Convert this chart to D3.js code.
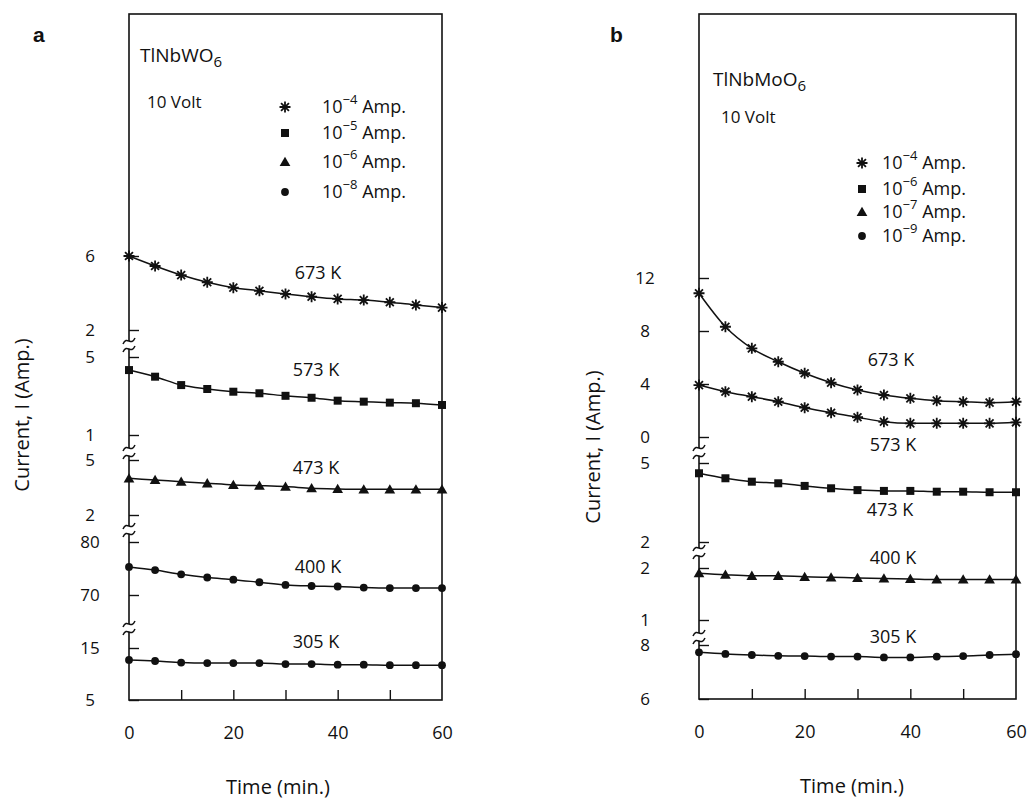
<!DOCTYPE html>
<html>
<head>
<meta charset="utf-8">
<script src="https://cdn.jsdelivr.net/npm/d3@7"></script>
<style>
  body { margin: 0; background: #fff; }
  svg text { font-family: 'Open Sans', 'DejaVu Sans', sans-serif; fill: #111; }
  .letter { font-family: 'Liberation Sans', Arial, sans-serif; font-weight: bold; font-size: 21px; }
  .tick-label { font-size: 17px; }
  .temp-label { font-size: 18px; }
  .axis-title { font-size: 20px; }
</style>
</head>
<body>
<svg id="chart" width="1027" height="799"></svg>
<script>
// Time points (min.) shared by every series
const times = [0, 5, 10, 15, 20, 25, 30, 35, 40, 45, 50, 55, 60];
const timeTickLabels = [0, 20, 40, 60];
const timeMinorTicks = [10, 20, 30, 40, 50];

// Panel a : TlNbWO6, one broken-axis segment per temperature
const aTicks = [[6, 2], [5, 1], [5, 2], [80, 70], [15, 5]];
const a673 = [6.0, 5.46, 4.97, 4.58, 4.29, 4.12, 3.95, 3.80, 3.68, 3.62, 3.50, 3.35, 3.21];
const a573 = [4.33, 3.99, 3.56, 3.36, 3.22, 3.14, 3.01, 2.91, 2.76, 2.71, 2.66, 2.63, 2.54];
const a473 = [4.00, 3.91, 3.82, 3.73, 3.64, 3.60, 3.55, 3.46, 3.42, 3.40, 3.40, 3.40, 3.40];
const a400 = [75.3, 74.7, 73.9, 73.3, 72.9, 72.4, 71.9, 71.7, 71.6, 71.4, 71.3, 71.3, 71.3];
const a305 = [12.7, 12.5, 12.2, 12.1, 12.1, 12.1, 11.9, 11.9, 11.8, 11.8, 11.7, 11.7, 11.7];
const aLegendExp = ['\u22124', '\u22125', '\u22126', '\u22128'];

// Panel b : TlNbMoO6
const bTicks = [[12, 8, 4, 0], [5, 2], [2, 1], [8, 6]];
const b673 = [10.85, 8.32, 6.69, 5.68, 4.81, 4.10, 3.55, 3.17, 2.92, 2.74, 2.66, 2.59, 2.66];
const b573 = [3.92, 3.42, 3.04, 2.66, 2.21, 1.83, 1.49, 1.15, 1.03, 1.03, 1.03, 1.03, 1.11];
const b473 = [4.61, 4.42, 4.29, 4.23, 4.13, 4.04, 3.97, 3.94, 3.94, 3.91, 3.91, 3.89, 3.89];
const b400 = [1.90, 1.87, 1.85, 1.85, 1.83, 1.82, 1.81, 1.80, 1.79, 1.78, 1.78, 1.78, 1.78];
const b305 = [7.73, 7.67, 7.63, 7.60, 7.59, 7.57, 7.57, 7.54, 7.54, 7.57, 7.59, 7.63, 7.66];
const bLegendExp = ['\u22124', '\u22126', '\u22127', '\u22129'];

const markers = ['star', 'square', 'triangle', 'circle'];

const panelA = {
  letter: 'a', formula: 'TlNbWO', ticks: aTicks, legendExp: aLegendExp,
  series: [
    { values: a673, seg: 0, mark: 'star', label: '673 K' },
    { values: a573, seg: 1, mark: 'square', label: '573 K' },
    { values: a473, seg: 2, mark: 'triangle', label: '473 K' },
    { values: a400, seg: 3, mark: 'circle', label: '400 K' },
    { values: a305, seg: 4, mark: 'circle', label: '305 K' }
  ]
};

const panelB = {
  letter: 'b', formula: 'TlNbMoO', ticks: bTicks, legendExp: bLegendExp,
  series: [
    { values: b673, seg: 0, mark: 'star', label: '673 K' },
    { values: b573, seg: 0, mark: 'star', label: '573 K' },
    { values: b473, seg: 1, mark: 'square', label: '473 K' },
    { values: b400, seg: 2, mark: 'triangle', label: '400 K' },
    { values: b305, seg: 3, mark: 'circle', label: '305 K' }
  ]
};

// Layout (pixels) kept apart from the data
const layoutA = {
  left: 129, right: 442, top: 14, bottom: 700,
  segPx: [[256, 330], [357, 435], [460, 515], [542, 595], [648, 700]],
  breaks: [345, 452, 530, 628],
  tickLabelX: 90,
  yTitle: [22, 415], xTitleX: 278,
  letter: [33, 42], formula: [140, 62], volt: [147, 108],
  legend: { x: 285, tx: 322, ys: [107, 133, 162, 192] },
  labels: [[318, 279], [316, 376], [316, 474], [318, 573], [316, 648]]
};

const layoutB = {
  left: 699, right: 1016, top: 14, bottom: 699,
  segPx: [[278, 437], [463, 542], [568, 620], [645, 699]],
  breaks: [452, 552, 637],
  tickLabelX: 645,
  yTitle: [593, 447], xTitleX: 852,
  letter: [610, 42], formula: [713, 86], volt: [721, 123],
  legend: { x: 862, tx: 882, ys: [163, 189, 212, 236] },
  labels: [[891, 366], [893, 451], [890, 516], [893, 564], [893, 643]]
};

const svg = d3.select('#chart');

function drawMarker(g, type, x, y) {
  if (type === 'star') {
    const r = 5.5, d = r * 0.72;
    g.append('path')
      .attr('d', `M${x},${y - r}V${y + r}M${x - r},${y}H${x + r}` +
        `M${x - d},${y - d}L${x + d},${y + d}M${x - d},${y + d}L${x + d},${y - d}`)
      .attr('stroke', '#111').attr('stroke-width', 1.8).attr('fill', 'none');
  } else {
    const sym = type === 'square' ? d3.symbolSquare : type === 'triangle' ? d3.symbolTriangle : d3.symbolCircle;
    const size = type === 'square' ? 64 : type === 'triangle' ? 50 : 48;
    g.append('path')
      .attr('transform', `translate(${x},${y + (type === 'triangle' ? 1 : 0)})`)
      .attr('d', d3.symbol(sym, size)())
      .attr('fill', '#111');
  }
}

function drawPanel(panel, L) {
  const g = svg.append('g');

  const x = d3.scaleLinear().domain([0, 60]).range([L.left, L.right]);

  // one linear scale per axis segment (broken axis)
  const yScales = panel.ticks.map((t, i) =>
    d3.scaleLinear().domain(d3.extent(t)).range([L.segPx[i][1], L.segPx[i][0]]));

  // frame
  g.append('rect')
    .attr('x', L.left).attr('y', L.top)
    .attr('width', L.right - L.left).attr('height', L.bottom - L.top)
    .attr('fill', 'none').attr('stroke', '#111').attr('stroke-width', 1.6);

  // x axis minor ticks
  g.append('g')
    .attr('transform', `translate(0,${L.bottom})`)
    .call(d3.axisBottom(x).tickValues(timeMinorTicks).tickSizeInner(-10).tickSizeOuter(0).tickFormat(''))
    .call(s => s.select('.domain').remove())
    .call(s => s.selectAll('line').attr('stroke', '#111').attr('stroke-width', 1.4));

  // x axis labels
  g.append('g')
    .attr('transform', `translate(0,${L.bottom})`)
    .call(d3.axisBottom(x).tickValues(timeTickLabels).tickSize(0).tickPadding(26))
    .call(s => s.select('.domain').remove())
    .call(s => s.selectAll('text').attr('class', 'tick-label').style('font-size', '18px')
      .style('font-family', "'Open Sans', sans-serif").attr('fill', '#111'));

  g.append('text')
    .attr('class', 'axis-title')
    .attr('x', L.xTitleX).attr('y', L.bottom + 94)
    .attr('text-anchor', 'middle')
    .text('Time (min.)');

  // y axis ticks and labels per segment
  yScales.forEach((ys, i) => {
    g.append('g')
      .attr('transform', `translate(${L.left},0)`)
      .call(d3.axisRight(ys).tickValues(panel.ticks[i]).tickSize(10).tickFormat(''))
      .call(s => s.select('.domain').remove())
      .call(s => s.selectAll('line').attr('stroke', '#111').attr('stroke-width', 1.4));

    g.selectAll(null)
      .data(panel.ticks[i])
      .join('text')
      .attr('class', 'tick-label')
      .attr('x', L.tickLabelX)
      .attr('y', d => ys(d))
      .attr('dy', '0.36em')
      .attr('text-anchor', 'middle')
      .text(d => d);
  });

  // axis breaks
  L.breaks.forEach(by => {
    g.append('rect')
      .attr('x', L.left - 3).attr('y', by - 4).attr('width', 6).attr('height', 8)
      .attr('fill', '#fff');
    [-4, 4].forEach(off => {
      g.append('path')
        .attr('d', `M${L.left - 6},${by + off + 3}C${L.left - 2},${by + off - 6} ${L.left + 2},${by + off + 6} ${L.left + 6},${by + off - 3}`)
        .attr('fill', 'none').attr('stroke', '#111').attr('stroke-width', 1.5);
    });
  });

  g.append('text')
    .attr('class', 'axis-title')
    .attr('transform', `translate(${L.yTitle[0]},${L.yTitle[1]}) rotate(-90)`)
    .attr('text-anchor', 'middle')
    .attr('dy', '0.35em')
    .text('Current, I (Amp.)');

  // series
  const line = d3.line().curve(d3.curveMonotoneX);
  panel.series.forEach((s, i) => {
    const ys = yScales[s.seg];
    const pts = s.values.map((v, j) => [x(times[j]), ys(v)]);
    g.append('path')
      .attr('d', line(pts))
      .attr('fill', 'none').attr('stroke', '#111').attr('stroke-width', 1.5);
    const mg = g.append('g');
    pts.forEach(p => drawMarker(mg, s.mark, p[0], p[1]));

    g.append('text')
      .attr('class', 'temp-label')
      .attr('x', L.labels[i][0]).attr('y', L.labels[i][1])
      .attr('text-anchor', 'middle')
      .text(s.label);
  });

  // panel letter, formula, voltage
  g.append('text').attr('class', 'letter')
    .attr('x', L.letter[0]).attr('y', L.letter[1]).text(panel.letter);

  const f = g.append('text').attr('x', L.formula[0]).attr('y', L.formula[1]).style('font-size', '19px');
  f.append('tspan').text(panel.formula);
  f.append('tspan').attr('dy', 5).style('font-size', '15px').text('6');

  g.append('text').attr('x', L.volt[0]).attr('y', L.volt[1]).style('font-size', '17px').text('10 Volt');

  // legend
  panel.legendExp.forEach((e, i) => {
    const ly = L.legend.ys[i];
    drawMarker(g, markers[i], L.legend.x, ly);
    const t = g.append('text').attr('x', L.legend.tx).attr('y', ly + 6).style('font-size', '18px');
    t.append('tspan').text('10');
    t.append('tspan').attr('dy', -9).style('font-size', '13px').text(e);
    t.append('tspan').attr('dy', 9).text(' Amp.');
  });
}

drawPanel(panelA, layoutA);
drawPanel(panelB, layoutB);
</script>
</body>
</html>
